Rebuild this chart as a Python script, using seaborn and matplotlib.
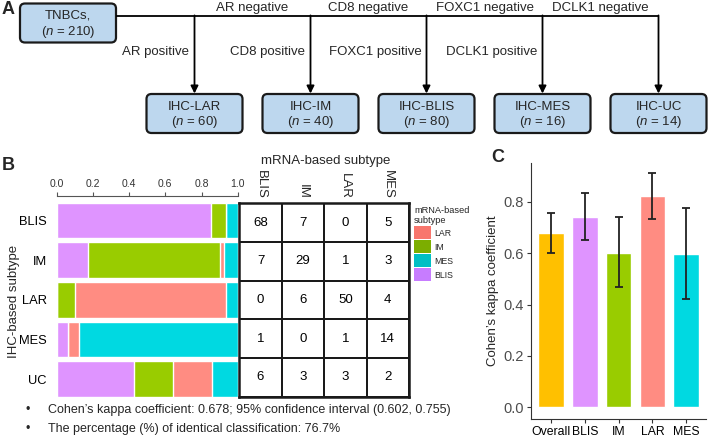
import numpy as np
import pandas as pd
import seaborn as sns
import matplotlib.pyplot as plt
from matplotlib.colors import ListedColormap
from matplotlib.patches import FancyBboxPatch, Patch

# ---- data ----
subtypes = ["IHC-LAR", "IHC-IM", "IHC-BLIS", "IHC-MES", "IHC-UC"]
subtype_n = [60, 40, 80, 16, 14]
markers = ["AR", "CD8", "FOXC1", "DCLK1"]
total_n = 210

ihc_rows = ["BLIS", "IM", "LAR", "MES", "UC"]
mrna_cols = ["BLIS", "IM", "LAR", "MES"]
counts_blis = [68, 7, 0, 1, 6]
counts_im = [7, 29, 6, 0, 3]
counts_lar = [0, 1, 50, 1, 3]
counts_mes = [5, 3, 4, 14, 2]

kappa_groups = ["Overall", "BLIS", "IM", "LAR", "MES"]
kappa = [0.678, 0.742, 0.602, 0.823, 0.598]
kappa_lo = [0.602, 0.649, 0.469, 0.734, 0.422]
kappa_hi = [0.755, 0.835, 0.739, 0.911, 0.777]

bar_colors = {"BLIS": "#DF94FF", "IM": "#99CC00", "LAR": "#FF8C82", "MES": "#00D9E1"}
legend_colors = {"LAR": "#F8766D", "IM": "#7CAE00", "MES": "#00BFC4", "BLIS": "#C77CFF"}
kappa_colors = ["#FFC000", "#DF94FF", "#99CC00", "#FF8C82", "#00D9E1"]

sns.set_theme(style="white")
plt.rcParams["font.family"] = ["Liberation Sans", "DejaVu Sans"]
plt.rcParams["mathtext.fontset"] = "custom"
plt.rcParams["mathtext.rm"] = "Liberation Sans"
plt.rcParams["mathtext.it"] = "Liberation Sans:italic"

W, H = 709, 444
fig = plt.figure(figsize=(W / 100, H / 100), dpi=100)


def px_axes(x0, y0, x1, y1):
    return fig.add_axes([x0 / W, 1 - y1 / H, (x1 - x0) / W, (y1 - y0) / H])


# ---- panel A: flowchart drawn in pixel coordinates ----
ax_a = px_axes(0, 0, W, H)
ax_a.set_xlim(0, W)
ax_a.set_ylim(H, 0)
ax_a.axis("off")
ax_a.patch.set_alpha(0)

box_fc, box_ec = "#BDD7EE", "#1a1a1a"
bw, bh = 96, 39


def draw_box(cx, cy, line1, n):
    ax_a.add_patch(FancyBboxPatch((cx - bw / 2, cy - bh / 2), bw, bh,
                                  boxstyle="round,pad=0,rounding_size=5",
                                  fc=box_fc, ec=box_ec, lw=1.6))
    ax_a.text(cx, cy - 7, line1, ha="center", va="center", fontsize=9.5)
    ax_a.text(cx, cy + 8.5, r"($\it{n}$ = %d)" % n, ha="center", va="center", fontsize=9.5)


draw_box(68, 23, "TNBCs,", total_n)
line_y = 16
xs = [194.5 + 116 * i for i in range(len(subtypes))]
ax_a.plot([116, xs[-1]], [line_y, line_y], color="black", lw=1.3, solid_capstyle="butt")
for i, (name, n) in enumerate(zip(subtypes, subtype_n)):
    ax_a.annotate("", xy=(xs[i], 93.5), xytext=(xs[i], line_y - 0.6),
                  arrowprops=dict(arrowstyle="-|>", mutation_scale=11, lw=1.3,
                                  color="black", shrinkA=0, shrinkB=0))
    draw_box(xs[i], 113.5, name, n)
for i, m in enumerate(markers):
    ax_a.text((xs[i] + xs[i + 1]) / 2, 8, f"{m} negative", ha="center", va="center", fontsize=9.5)
    ax_a.text(xs[i] - 5, 52.5, f"{m} positive", ha="right", va="center", fontsize=9.5)

ax_a.text(2, 10, "A", fontsize=13, fontweight="bold", va="center")
ax_a.text(2, 165, "B", fontsize=13, fontweight="bold", va="center")
ax_a.text(491, 157, "C", fontsize=13, fontweight="bold", va="center")

# ---- panel B: stacked proportions ----
counts = pd.DataFrame({"BLIS": counts_blis, "IM": counts_im, "LAR": counts_lar, "MES": counts_mes},
                      index=ihc_rows)
props = counts.div(counts.sum(axis=1), axis=0)
cum = props.cumsum(axis=1)

ax_b = px_axes(56.7, 195.7, 237.7, 397)
for col in reversed(mrna_cols):
    sns.barplot(x=cum[col].values, y=ihc_rows, orient="h", color=bar_colors[col],
                saturation=1, width=0.9, ax=ax_b)
ax_b.set_xlim(0, 1)
ax_b.set_ylim(4.45, -0.625)
ax_b.xaxis.tick_top()
ax_b.set_xticks([0, 0.2, 0.4, 0.6, 0.8, 1.0])
ax_b.set_xticklabels(["0.0", "0.2", "0.4", "0.6", "0.8", "1.0"])
for s in ["left", "right", "bottom"]:
    ax_b.spines[s].set_visible(False)
ax_b.spines["top"].set_color("#555555")
ax_b.spines["top"].set_linewidth(0.8)
ax_b.tick_params(axis="x", top=True, length=3, width=0.8, color="#555555",
                 labelsize=7.5, labelcolor="#333333", pad=1.5)
ax_b.tick_params(axis="y", left=False, labelsize=9.3, labelcolor="black", pad=1)
ax_b.set_xlabel("")
ax_b.set_ylabel("IHC-based subtype", fontsize=9.5)
ax_b.yaxis.set_label_coords(-0.205, 0.477)

# ---- panel B: confusion table ----
ax_t = px_axes(239.3, 203.3, 409, 396.7)
sns.heatmap(counts, ax=ax_t, cmap=ListedColormap(["white"]), annot=True, fmt="d",
            annot_kws={"size": 9.5, "color": "black"}, linewidths=1.3, linecolor="#1a1a1a",
            cbar=False, yticklabels=False)
ax_t.xaxis.tick_top()
ax_t.set_xticklabels(mrna_cols, rotation=270, fontsize=9.5, va="bottom")
ax_t.tick_params(axis="x", length=0, pad=3)
for s in ax_t.spines.values():
    s.set_visible(True)
    s.set_color("#1a1a1a")
    s.set_linewidth(1.8)
ax_t.set_xlabel("")
ax_t.set_ylabel("")
fig.text(325.7 / W, 1 - 161 / H, "mRNA-based subtype", ha="center", va="center", fontsize=9.5)

handles = [Patch(facecolor=legend_colors[k], edgecolor="none") for k in legend_colors]
leg = fig.legend(handles, list(legend_colors), title="mRNA-based\nsubtype", loc="upper left",
                 bbox_to_anchor=(414 / W, 1 - 206 / H), frameon=False, fontsize=6.3,
                 title_fontsize=6.7, handlelength=1.9, handleheight=1.9, labelspacing=0.12,
                 handletextpad=0.45, borderpad=0, borderaxespad=0, alignment="left")

fig.text(25 / W, 1 - 410 / H, "\u2022", fontsize=9, va="center")
fig.text(48 / W, 1 - 410 / H,
         "Cohen\u2019s kappa coefficient: 0.678; 95% confidence interval (0.602, 0.755)",
         fontsize=9, va="center")
fig.text(25 / W, 1 - 429 / H, "\u2022", fontsize=9, va="center")
fig.text(48 / W, 1 - 429 / H, "The percentage (%) of identical classification: 76.7%",
         fontsize=9, va="center")

# ---- panel C: kappa by subtype ----
ax_c = px_axes(530.7, 163, 706.5, 419)
kdf = pd.DataFrame({"group": kappa_groups, "kappa": kappa})
sns.barplot(data=kdf, x="group", y="kappa", hue="group", palette=kappa_colors, legend=False,
            saturation=1, width=0.76, ax=ax_c)
err = np.array([np.array(kappa) - np.array(kappa_lo), np.array(kappa_hi) - np.array(kappa)])
ax_c.errorbar(np.arange(len(kappa)), kappa, yerr=err, fmt="none", ecolor="#222222",
              elinewidth=1.3, capsize=2.6, capthick=1.3)
ax_c.set_xlim(-0.6, 4.6)
ax_c.set_ylim(-0.045, 0.95)
ax_c.set_yticks([0, 0.2, 0.4, 0.6, 0.8])
ax_c.set_yticklabels(["0.0", "0.2", "0.4", "0.6", "0.8"])
sns.despine(ax=ax_c)
for s in ["left", "bottom"]:
    ax_c.spines[s].set_color("#333333")
    ax_c.spines[s].set_linewidth(0.8)
ax_c.tick_params(axis="y", left=True, length=3, width=0.8, color="#333333",
                 labelsize=10.5, labelcolor="#4D4D4D", pad=2)
ax_c.tick_params(axis="x", bottom=True, length=3, width=0.8, color="#333333",
                 labelsize=8.8, labelcolor="black", pad=2)
ax_c.set_xlabel("")
ax_c.set_ylabel("Cohen\u2019s kappa coefficient", fontsize=9.5, labelpad=3)

fig.savefig("out.png", dpi=100)
